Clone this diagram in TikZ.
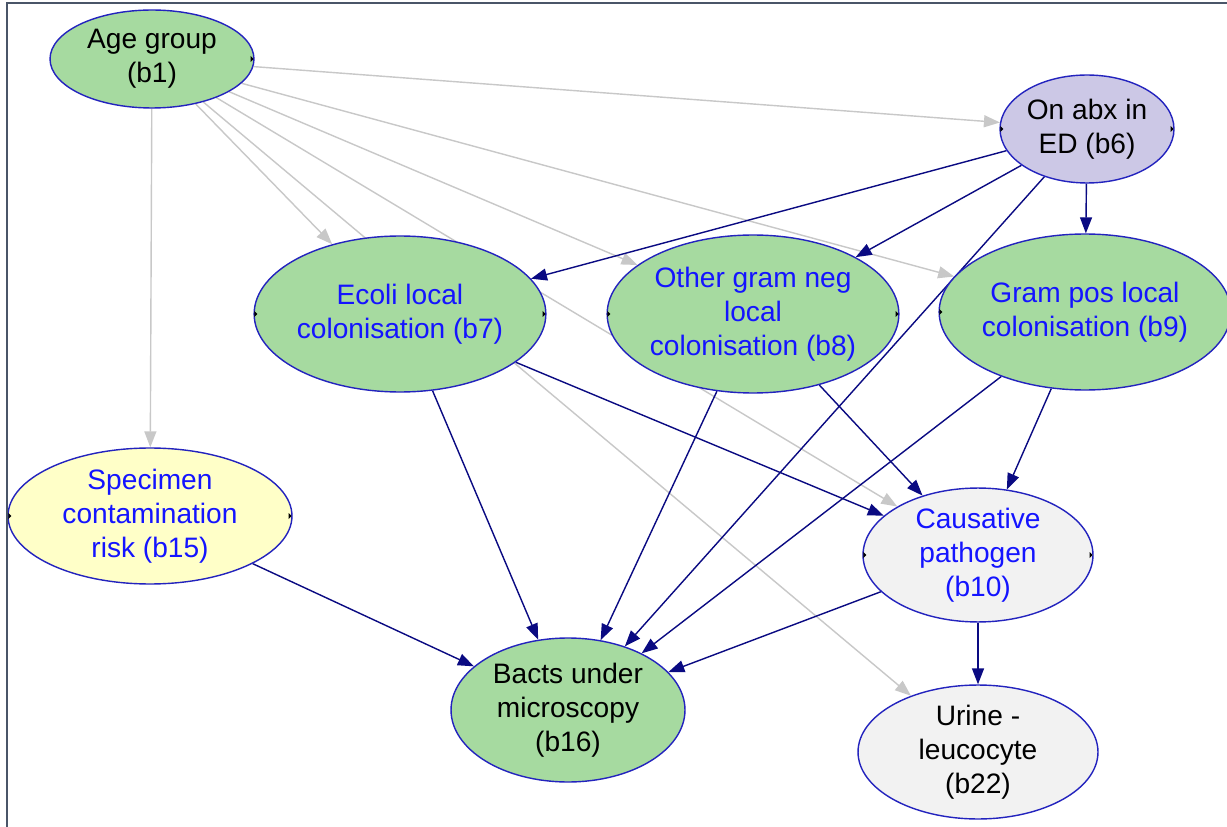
\documentclass[tikz,border=0pt]{standalone}
\usepackage{fontspec}
\setmainfont{Liberation Sans}
\usetikzlibrary{shapes.geometric,arrows.meta,backgrounds}
\definecolor{nodegreen}{RGB}{166,218,160}
\definecolor{nodepurple}{RGB}{204,200,230}
\definecolor{nodeyellow}{RGB}{255,255,200}
\definecolor{nodegrey}{RGB}{242,242,242}
\definecolor{nodeline}{RGB}{35,35,190}
\definecolor{labelblue}{RGB}{20,20,255}
\definecolor{arcnavy}{RGB}{10,10,130}
\definecolor{arcgrey}{RGB}{200,200,200}
\definecolor{framegrey}{RGB}{74,85,104}

\begin{document}
\begin{tikzpicture}[x=0.02cm,y=-0.02cm,
  bn/.style={draw=nodeline, line width=0.8pt, ellipse, inner sep=0pt, align=center, font=\fontsize{16}{19.5}\selectfont},
  greyarc/.style={draw=arcgrey, line width=0.8pt, -{Triangle[length=0.32cm,width=0.24cm]}},
  navyarc/.style={draw=arcnavy, line width=0.8pt, -{Triangle[length=0.32cm,width=0.24cm]}},
  toggle/.style={fill=black}]
\useasboundingbox (0,0) rectangle (1227,827);
\node[bn, fill=nodegreen, minimum width=4.08cm, minimum height=1.96cm] (b1) at (152,59) {Age group\\(b1)};
\node[bn, fill=nodepurple, minimum width=3.48cm, minimum height=2.16cm] (b6) at (1087,129) {On abx in\\ED (b6)};
\node[bn, fill=nodegreen, text=labelblue, minimum width=5.8cm, minimum height=3.12cm] (b7) at (400,314) {Ecoli local\\colonisation (b7)};
\node[bn, fill=nodegreen, text=labelblue, minimum width=5.8cm, minimum height=3.16cm] (b8) at (753,314) {Other gram neg\\local\\colonisation (b8)};
\node[bn, fill=nodegreen, text=labelblue, minimum width=5.72cm, minimum height=3.12cm] (b9) at (1085,312) {Gram pos local\\colonisation (b9)};
\node[bn, fill=nodeyellow, text=labelblue, minimum width=5.68cm, minimum height=2.72cm] (b15) at (150,516) {Specimen\\contamination\\risk (b15)};
\node[bn, fill=nodegreen, minimum width=4.68cm, minimum height=2.88cm] (b16) at (568,710) {Bacts under\\microscopy\\(b16)};
\node[bn, fill=nodegrey, text=labelblue, minimum width=4.6cm, minimum height=2.48cm] (b10) at (978,555) {Causative\\pathogen\\(b10)};
\node[bn, fill=nodegrey, minimum width=4.8cm, minimum height=2.6cm] (b22) at (978,752) {Urine -\\leucocyte\\(b22)};

\begin{scope}[on background layer]
\fill[white] (0,0) rectangle (1227,827);
\path[greyarc] (b1) -- (b6);
\path[greyarc] (b1) -- (b7);
\path[greyarc] (b1) -- (b8);
\path[greyarc] (b1) -- (b9);
\path[greyarc] (b1) -- (b10);
\path[greyarc] (b1) -- (b15);
\path[greyarc] (b1) -- (b22);
\path[navyarc] (b6) -- (b7);
\path[navyarc] (b6) -- (b8);
\path[navyarc] (b6) -- (b9);
\path[navyarc] (b6) -- (b16);
\path[navyarc] (b7) -- (b10);
\path[navyarc] (b7) -- (b16);
\path[navyarc] (b8) -- (b10);
\path[navyarc] (b8) -- (b16);
\path[navyarc] (b9) -- (b10);
\path[navyarc] (b9) -- (b16);
\path[navyarc] (b15) -- (b16);
\path[navyarc] (b10) -- (b16);
\path[navyarc] (b10) -- (b22);
\end{scope}

\foreach \n in {b6,b7,b8,b9,b15,b10} {
  \fill[toggle] (\n.west) ++(1,-3) -- ++(3,3) -- ++(-3,3) -- cycle;
}
\foreach \n in {b1,b6,b7,b8,b9,b15,b10} {
  \fill[toggle] (\n.east) ++(-4,-3) -- ++(3,3) -- ++(-3,3) -- cycle;
}

\draw[framegrey, line width=1.2pt] (1227,3) -- (7,3) -- (7,827);
\end{tikzpicture}
\end{document}
